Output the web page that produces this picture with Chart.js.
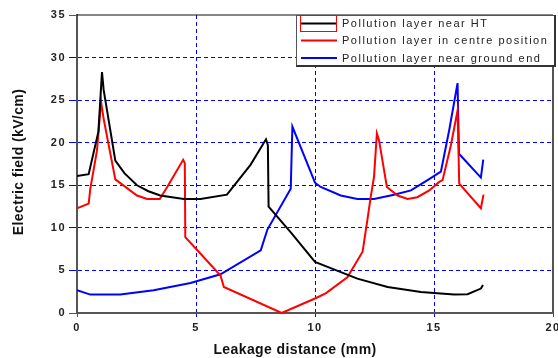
<!DOCTYPE html>
<html><head><meta charset="utf-8">
<script src="https://cdn.jsdelivr.net/npm/chart.js@4.4.0/dist/chart.umd.min.js"></script>
<style>html,body{margin:0;padding:0;background:#fff;}canvas{display:block;}</style>
</head><body>
<canvas id="c" width="558" height="358"></canvas>
<script>
// ---- data ----
const xTickValues = [0, 5, 10, 15, 20];
const yTickValues = [0, 5, 10, 15, 20, 25, 30, 35];
const seriesNames = ["Pollution layer near HT", "Pollution layer in centre position", "Pollution layer near ground end"];
const seriesColors = ["#000000", "#ff0000", "#0000ff"];

const htX = [0, 0.49, 0.9, 1.0, 1.05, 1.12, 1.61, 2.0, 2.52, 3.0, 3.5, 4.49, 5.19, 6.3, 7.29, 7.94, 8.02, 8.05, 9.0, 10.0, 10.9, 11.78, 13.05, 14.45, 15.0, 15.85, 16.41, 16.97, 17.06];
const htY = [16.1, 16.3, 21.3, 26.0, 28.3, 26.2, 17.9, 16.4, 15.0, 14.3, 13.8, 13.4, 13.4, 13.9, 17.4, 20.4, 19.7, 12.5, 9.4, 6.0, 5.0, 4.04, 3.06, 2.47, 2.35, 2.16, 2.2, 2.87, 3.3];

const centreX = [0, 0.49, 0.56, 0.84, 1.01, 1.12, 1.61, 2.52, 2.95, 3.48, 3.79, 4.46, 4.53, 4.55, 4.98, 6.03, 6.17, 8.6, 10.0, 10.45, 11.36, 12.0, 12.2, 12.34, 12.48, 12.6, 12.69, 13.02, 13.47, 13.89, 14.3, 14.8, 15.22, 15.36, 15.71, 15.99, 16.06, 16.97, 17.08];
const centreY = [12.3, 12.85, 14.6, 19.1, 24.8, 22.8, 15.7, 13.8, 13.4, 13.4, 14.8, 18.0, 17.6, 8.9, 7.6, 4.4, 3.06, 0.0, 1.7, 2.3, 4.2, 7.2, 10.9, 13.6, 16.0, 21.1, 20.3, 14.8, 13.8, 13.4, 13.6, 14.4, 15.4, 15.6, 19.7, 23.8, 15.2, 12.3, 13.9];

const groundX = [0, 0.56, 1.82, 3.22, 4.77, 6.03, 7.72, 8.0, 8.98, 9.05, 10.0, 10.24, 11.08, 11.78, 12.48, 13.32, 14.03, 14.73, 15.29, 15.64, 15.99, 16.05, 16.97, 17.07];
const groundY = [2.67, 2.16, 2.16, 2.67, 3.53, 4.55, 7.37, 9.8, 14.6, 21.9, 15.3, 14.8, 13.8, 13.4, 13.4, 13.9, 14.4, 15.6, 16.6, 21.5, 27.0, 18.7, 15.9, 18.0];

const pts = (xs, ys) => xs.map((x, i) => ({x: x, y: ys[i]}));
const FONT = '"Liberation Sans", Arial, sans-serif';

const gridColor = (ctx, last) => (ctx.index === 0 || ctx.index === last) ? 'rgba(0,0,0,0)' : '#0000ff';
const tickCol = (ctx, last) => (ctx.index === 0 || ctx.index === last) ? '#555555' : '#0000ff';

const framePlugin = {
  id: 'frame',
  beforeDraw(chart) { chart.ctx.letterSpacing = '1.5px'; },
  afterDraw(chart) {
    const {ctx, chartArea: a} = chart;
    ctx.save();
    ctx.letterSpacing = '0px';
    // top and right frame
    ctx.strokeStyle = '#111'; ctx.lineWidth = 1.2;
    ctx.beginPath(); ctx.moveTo(a.left, a.top); ctx.lineTo(a.right, a.top); ctx.stroke();
    ctx.strokeStyle = '#555'; ctx.lineWidth = 2;
    ctx.beginPath(); ctx.moveTo(a.right, a.top); ctx.lineTo(a.right, a.bottom); ctx.stroke();

    // legend
    const lx = 296, ly = 15, lw = 259, lh = 51;
    ctx.fillStyle = '#fff'; ctx.fillRect(lx, ly, lw, lh);
    ctx.strokeStyle = '#555'; ctx.lineWidth = 1;
    ctx.strokeRect(lx + 0.5, ly + 0.5, lw - 1, lh - 1);
    ctx.strokeStyle = '#333'; ctx.lineWidth = 2;
    ctx.beginPath(); ctx.moveTo(lx, ly + lh); ctx.lineTo(lx + lw, ly + lh); ctx.lineTo(lx + lw, ly); ctx.stroke();
    const rowsY = [23.5, 40.5, 58];
    ctx.font = '11px ' + FONT; ctx.textBaseline = 'middle'; ctx.textAlign = 'left';
    chart.data.datasets.forEach((ds, i) => {
      ctx.strokeStyle = ds.borderColor; ctx.lineWidth = 2;
      ctx.beginPath(); ctx.moveTo(301, rowsY[i]); ctx.lineTo(337, rowsY[i]); ctx.stroke();
      ctx.fillStyle = '#222'; ctx.letterSpacing = '1.5px';
      ctx.fillText(ds.label, 342, rowsY[i] + 0.5);
      ctx.letterSpacing = '0px';
    });
    ctx.strokeStyle = '#ff0000'; ctx.lineWidth = 1;
    ctx.strokeRect(300.5, 15.5, 36, 16);

    // axis titles
    ctx.fillStyle = '#111'; ctx.font = 'bold 14px ' + FONT;
    ctx.letterSpacing = '0.4px';
    ctx.textAlign = 'center'; ctx.textBaseline = 'middle';
    ctx.fillText('Leakage distance (mm)', 295, 350);
    ctx.translate(19, 162); ctx.rotate(-Math.PI / 2);
    ctx.fillText('Electric field (kV/cm)', 0, 0);
    ctx.restore();
  }
};

new Chart(document.getElementById('c'), {
  type: 'line',
  data: {
    datasets: [
      {label: seriesNames[0], data: pts(htX, htY), borderColor: seriesColors[0]},
      {label: seriesNames[1], data: pts(centreX, centreY), borderColor: seriesColors[1]},
      {label: seriesNames[2], data: pts(groundX, groundY), borderColor: seriesColors[2]}
    ]
  },
  options: {
    responsive: false, animation: false, devicePixelRatio: 1,
    parsing: false,
    elements: {line: {borderWidth: 2, tension: 0, fill: false}, point: {radius: 0}},
    layout: {padding: {top: 15, right: 5, left: 0, bottom: 0}},
    plugins: {legend: {display: false}, tooltip: {enabled: false}},
    scales: {
      x: {
        type: 'linear', min: 0, max: 20,
        afterBuildTicks: s => { s.ticks = xTickValues.map(v => ({value: v})); },
        ticks: {font: {family: FONT, size: 11, weight: 'bold'}, color: '#222', padding: 4, maxRotation: 0},
        grid: {color: c => gridColor(c, 4), tickColor: c => tickCol(c, 4), tickLength: 4, lineWidth: 1, borderDash: [4, 3]},
        border: {color: '#555', width: 2, dash: [4, 3]},
        afterFit: s => { s.height = 45; s.paddingLeft = 0; s.paddingRight = 0; }
      },
      y: {
        type: 'linear', min: 0, max: 35,
        afterBuildTicks: s => { s.ticks = yTickValues.map(v => ({value: v})); },
        ticks: {font: {family: FONT, size: 11, weight: 'bold'}, color: '#222', padding: 3},
        grid: {color: c => gridColor(c, 7), tickColor: c => tickCol(c, 7), tickLength: 8, lineWidth: 1, borderDash: [4, 3]},
        border: {color: '#555', width: 2, dash: [4, 3]},
        afterFit: s => { s.width = 77; s.paddingTop = 0; s.paddingBottom = 0; }
      }
    }
  },
  plugins: [framePlugin]
});
</script>
</body></html>
